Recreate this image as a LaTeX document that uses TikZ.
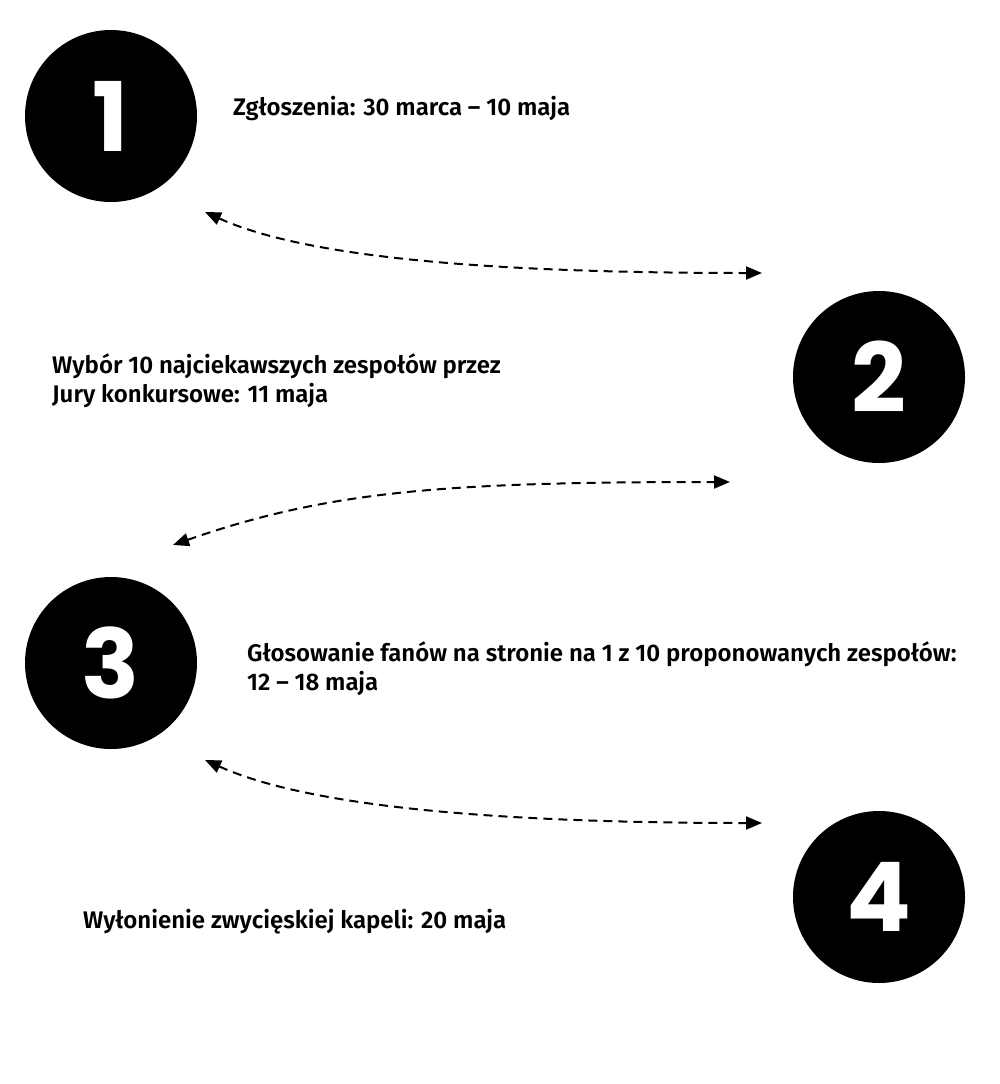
\documentclass[tikz,border=0pt]{standalone}
\usepackage{fontspec}
\setmainfont{Fira Sans}[BoldFont={* SemiBold}]
\newfontfamily\digitfont{Poppins}
\usetikzlibrary{arrows.meta}
\tikzset{
  numcircle/.style={circle, fill=black, minimum size=172pt, inner sep=0pt,
    text=white, font=\digitfont\bfseries\fontsize{96}{96}\selectfont},
  label/.style={anchor=base west, inner sep=0pt, align=left,
    font=\bfseries\fontsize{24}{29}\selectfont},
  link/.style={line width=2pt, dash pattern=on 9pt off 6pt,
    {Triangle[length=16pt,width=13pt]}-{Triangle[length=16pt,width=13pt]}},
}
\begin{document}
\begin{tikzpicture}[x=1pt,y=-1pt]
\useasboundingbox (0,0) rectangle (1000,1084);
\node[numcircle] (c1) at (111,116) {1};
\node[numcircle] (c2) at (879,377) {2};
\node[numcircle] (c3) at (111,663) {3};
\node[numcircle] (c4) at (879,897) {4};

\node[label] (t1) at (233,115) {Zgłoszenia: 30 marca – 10 maja};
\node[label] (t2) at (52,402) {Wybór 10 najciekawszych zespołów przez\\Jury konkursowe: 11 maja};
\node[label] (t3) at (247,690) {Głosowanie fanów na stronie na 1 z 10 proponowanych zespołów:\\12 – 18 maja};
\node[label] (t4) at (83,928) {Wyłonienie zwycięskiej kapeli: 20 maja};

\coordinate (a1s) at (205,212);
\coordinate (a1e) at (762,273);
\coordinate (a2s) at (730,482);
\coordinate (a2e) at (173,545);
\coordinate (a3s) at (205,760);
\coordinate (a3e) at (762,823);

\draw[link] (a1s) .. controls (300,255) and (470,273) .. (a1e);
\draw[link] (a2e) .. controls (330,490) and (450,482) .. (a2s);
\draw[link] (a3s) .. controls (300,803) and (470,823) .. (a3e);
\end{tikzpicture}
\end{document}
